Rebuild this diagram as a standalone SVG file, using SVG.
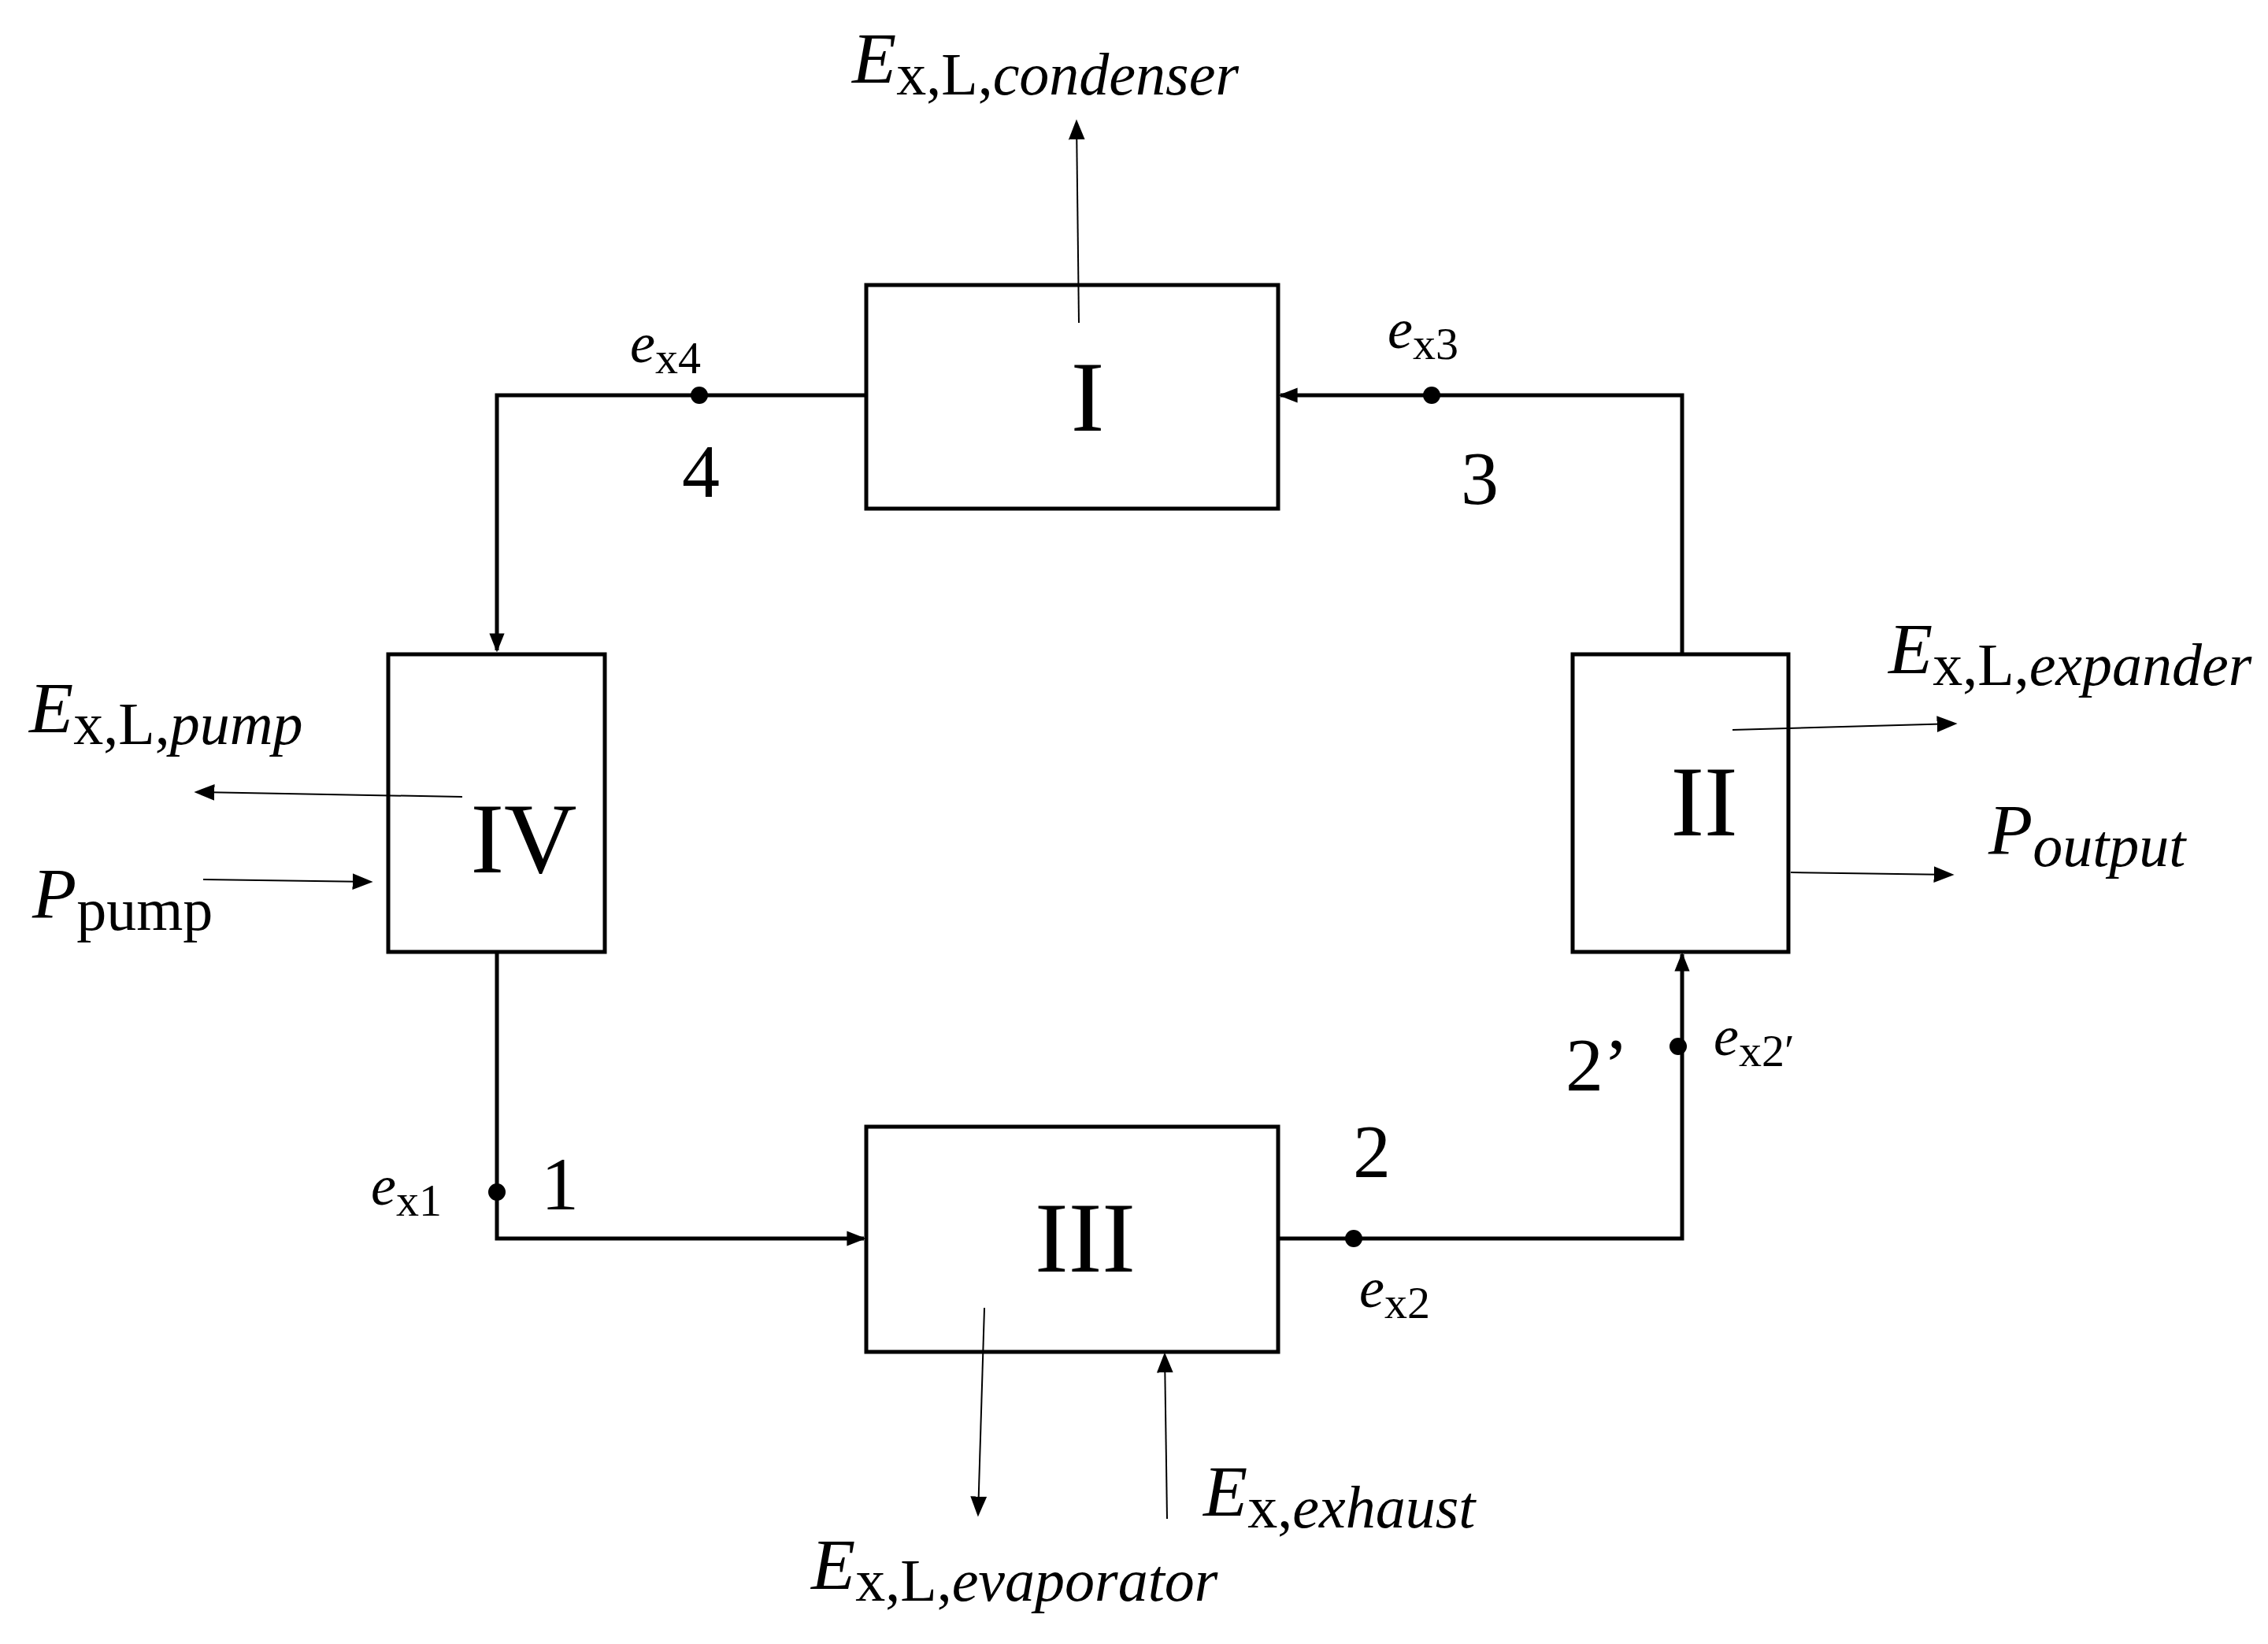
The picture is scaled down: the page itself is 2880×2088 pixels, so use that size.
<svg xmlns="http://www.w3.org/2000/svg" width="2880" height="2088" viewBox="0 0 2880 2088">
<defs>
<marker id="ahb" viewBox="0 0 10 10" refX="9" refY="5" markerWidth="24" markerHeight="24" orient="auto" markerUnits="userSpaceOnUse"><path d="M0,1 L10,5 L0,9 z" fill="#000"/></marker>
<marker id="aht" viewBox="0 0 10 10" refX="9" refY="5" markerWidth="26" markerHeight="26" orient="auto" markerUnits="userSpaceOnUse"><path d="M0,1 L10,5 L0,9 z" fill="#000"/></marker>
</defs>
<style>
.box{fill:#fff;stroke:#000;stroke-width:5}
.pipe{fill:none;stroke:#000;stroke-width:5}
.thin{fill:none;stroke:#000;stroke-width:2}
text{font-family:"Liberation Serif","Times New Roman",serif;fill:#000}
.rn{font-size:128px;text-anchor:middle}
.num{font-size:96px}
.lab{font-size:72px;font-style:italic}
.sub{font-size:58px;font-style:normal}
.bsub{font-size:76px;font-style:normal}
.subi{font-style:italic}
.big{font-size:92px;font-style:italic}
</style>
<rect width="2880" height="2088" fill="#fff"/>
<g id="node-I"><rect class="box" x="1100" y="362" width="523" height="284"/><text class="rn" x="1381" y="547">I</text></g>
<g id="node-II"><rect class="box" x="1997" y="831" width="274" height="378"/><text class="rn" x="2164" y="1061">II</text></g>
<g id="node-III"><rect class="box" x="1100" y="1431" width="523" height="286"/><text class="rn" x="1378" y="1615">III</text></g>
<g id="node-IV"><rect class="box" x="493" y="831" width="275" height="378"/><text class="rn" x="665" y="1108">IV</text></g>
<g id="connectors">
<polyline class="pipe" points="1100,502 631,502 631,826" marker-end="url(#ahb)"/>
<polyline class="pipe" points="2136,831 2136,502 1626,502" marker-end="url(#ahb)"/>
<polyline class="pipe" points="631,1209 631,1573 1097,1573" marker-end="url(#ahb)"/>
<polyline class="pipe" points="1623,1573 2136,1573 2136,1212" marker-end="url(#ahb)"/>
<line class="thin" x1="1370" y1="410" x2="1367" y2="154" marker-end="url(#aht)"/>
<line class="thin" x1="587" y1="1012" x2="249" y2="1006" marker-end="url(#aht)"/>
<line class="thin" x1="258" y1="1117" x2="471" y2="1120" marker-end="url(#aht)"/>
<line class="thin" x1="2200" y1="927" x2="2483" y2="919" marker-end="url(#aht)"/>
<line class="thin" x1="2274" y1="1108" x2="2479" y2="1111" marker-end="url(#aht)"/>
<line class="thin" x1="1250" y1="1661" x2="1242" y2="1924" marker-end="url(#aht)"/>
<line class="thin" x1="1482" y1="1929" x2="1479" y2="1720" marker-end="url(#aht)"/>
<circle cx="888" cy="502" r="11"/>
<circle cx="1818" cy="502" r="11"/>
<circle cx="631" cy="1514" r="11"/>
<circle cx="1719" cy="1573" r="11"/>
<circle cx="2131" cy="1329" r="11"/>
</g>
<g id="labels">
<text class="big" x="1082" y="105">E<tspan class="bsub" dy="15">x,L,<tspan class="subi">condenser</tspan></tspan></text>
<text class="lab" x="800" y="460">e<tspan class="sub" dy="14">x4</tspan></text>
<text class="num" x="866" y="631">4</text>
<text class="lab" x="1762" y="442">e<tspan class="sub" dy="14">x3</tspan></text>
<text class="num" x="1855" y="640">3</text>
<text class="big" x="37" y="930">E<tspan class="bsub" dy="15">x,L,<tspan class="subi">pump</tspan></tspan></text>
<text class="big" x="41" y="1166">P<tspan class="bsub" dy="15">pump</tspan></text>
<text class="big" x="2398" y="855">E<tspan class="bsub" dy="15">x,L,<tspan class="subi">expander</tspan></tspan></text>
<text class="big" x="2525" y="1085">P<tspan class="bsub subi" dy="15">output</tspan></text>
<text class="num" x="1988" y="1385">2’</text>
<text class="lab" x="2176" y="1340">e<tspan class="sub" dy="14">x2′</tspan></text>
<text class="num" x="1718" y="1495">2</text>
<text class="lab" x="1726" y="1660">e<tspan class="sub" dy="14">x2</tspan></text>
<text class="lab" x="471" y="1530">e<tspan class="sub" dy="14">x1</tspan></text>
<text class="num" x="687" y="1536">1</text>
<text class="big" x="1528" y="1925">E<tspan class="bsub" dy="15">x,<tspan class="subi">exhaust</tspan></tspan></text>
<text class="big" x="1030" y="2018">E<tspan class="bsub" dy="15">x,L,<tspan class="subi">evaporator</tspan></tspan></text>
</g>
</svg>
